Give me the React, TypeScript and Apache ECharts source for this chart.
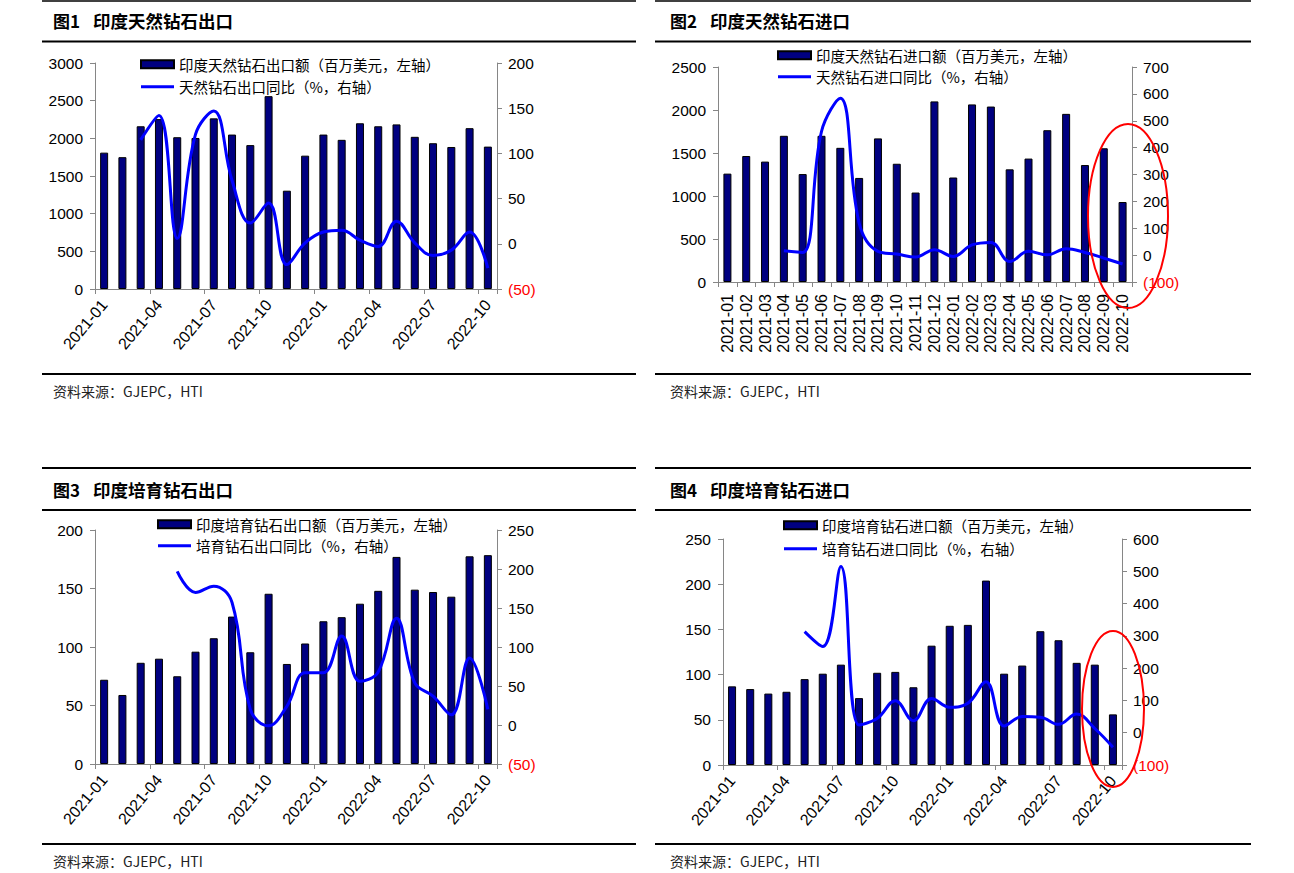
import React, { useEffect, useRef } from "react";
import * as echarts from "echarts";

const months = [
  "2021-01", "2021-02", "2021-03", "2021-04", "2021-05", "2021-06", "2021-07", "2021-08", "2021-09", "2021-10", "2021-11", "2021-12",
  "2022-01", "2022-02", "2022-03", "2022-04", "2022-05", "2022-06", "2022-07", "2022-08", "2022-09", "2022-10",
];

// 图1 印度天然钻石出口
const natExpValue = [1810, 1750, 2160, 2255, 2015, 2005, 2265, 2050, 1910, 2560, 1305, 1770, 2050, 1980, 2200, 2160, 2185, 2020, 1935, 1885, 2135, 1890];
const natExpYoy = [null, null, 115, 142, 6, 121, 147, 70, 23, 45, -23, 1, 13, 15, 4, -3, 25, 1, -13, -7, 13, -27];
// 图2 印度天然钻石进口
const natImpValue = [1260, 1465, 1400, 1700, 1255, 1700, 1560, 1210, 1670, 1375, 1040, 2100, 1215, 2065, 2040, 1310, 1435, 1765, 1955, 1360, 1555, 930];
const natImpYoy = [null, null, null, 16, 10, 460, 584, 119, 14, 4, -7, 20, -5, 38, 47, -24, 14, 1, 24, 10, -11, -33];
// 图3 印度培育钻石出口
const labExpValue = [72, 59, 86.5, 90, 75, 96, 107.5, 126, 95.5, 145.5, 85.5, 103, 122, 125.5, 137, 148, 177, 149, 147, 143, 177.5, 178.5];
const labExpYoy = [null, null, null, null, 197, 170, 178, 157, 20, -1, 24, 67, 67, 114, 56, 68, 137, 54, 37, 13, 86, 20];
// 图4 印度培育钻石进口
const labImpValue = [87, 84, 79, 81, 95, 101, 111, 74, 102, 103, 86, 132, 154, 155, 204, 101, 110, 148, 138, 113, 111, 56];
const labImpYoy = [null, null, null, null, 313, 267, 515, 24, 44, 99, 37, 106, 79, 91, 158, 21, 50, 48, 26, 58, 13, -45];

const NUM = '"Liberation Sans", Arial, sans-serif';
const CJK = '"Noto Sans CJK SC", "Noto Sans", sans-serif';
const AXIS_GRAY = "#868686";
const LINE_ICON = "path://M0,0L0.01,0L0,0.01Z M0,2.5L33,2.5L33,5.5L0,5.5Z M0,8L0.01,8L0,7.99Z";

type Panel = {
  grid: { left: number; top: number; width: number; height: number };
  left: [number, number, number];
  right: [number, number, number];
  barName: string;
  lineName: string;
  bars: number[];
  yoy: (number | null)[];
  legend: { left: number; top: number; gap: number };
  allLabels: boolean;
};

const panels: Panel[] = [
  {
    grid: { left: 95, top: 63, width: 402, height: 226 },
    left: [0, 3000, 500],
    right: [-50, 200, 50],
    barName: "印度天然钻石出口额（百万美元，左轴）",
    lineName: "天然钻石出口同比（%，右轴）",
    bars: natExpValue,
    yoy: natExpYoy,
    legend: { left: 140, top: 57, gap: 8 },
    allLabels: false,
  },
  {
    grid: { left: 718, top: 67, width: 414, height: 215 },
    left: [0, 2500, 500],
    right: [-100, 700, 100],
    barName: "印度天然钻石进口额（百万美元，左轴）",
    lineName: "天然钻石进口同比（%，右轴）",
    bars: natImpValue,
    yoy: natImpYoy,
    legend: { left: 777, top: 48, gap: 7 },
    allLabels: true,
  },
  {
    grid: { left: 95, top: 530, width: 402, height: 234 },
    left: [0, 200, 50],
    right: [-50, 250, 50],
    barName: "印度培育钻石出口额（百万美元，左轴）",
    lineName: "培育钻石出口同比（%，右轴）",
    bars: labExpValue,
    yoy: labExpYoy,
    legend: { left: 157, top: 517, gap: 7 },
    allLabels: false,
  },
  {
    grid: { left: 723, top: 539, width: 399, height: 226 },
    left: [0, 250, 50],
    right: [-100, 600, 100],
    barName: "印度培育钻石进口额（百万美元，左轴）",
    lineName: "培育钻石进口同比（%，右轴）",
    bars: labImpValue,
    yoy: labImpYoy,
    legend: { left: 783, top: 518, gap: 9 },
    allLabels: false,
  },
];

const titles = [
  { num: "图1", text: "印度天然钻石出口", x: 53, y: 20 },
  { num: "图2", text: "印度天然钻石进口", x: 670, y: 20 },
  { num: "图3", text: "印度培育钻石出口", x: 53, y: 489 },
  { num: "图4", text: "印度培育钻石进口", x: 670, y: 489 },
];

function buildOption() {
  const grid: any[] = [];
  const xAxis: any[] = [];
  const yAxis: any[] = [];
  const series: any[] = [];
  const legend: any[] = [];

  panels.forEach((p, i) => {
    grid.push({ ...p.grid, containLabel: false });
    xAxis.push({
      type: "category",
      gridIndex: i,
      data: months,
      boundaryGap: true,
      axisLine: { lineStyle: { color: AXIS_GRAY, width: 1 } },
      axisTick: { show: true, interval: p.allLabels ? 0 : 2, length: 5, lineStyle: { color: AXIS_GRAY } },
      axisLabel: {
        interval: p.allLabels ? 0 : 2,
        rotate: p.allLabels ? 90 : 50,
        fontSize: 16,
        fontFamily: NUM,
        color: "#000",
        margin: p.allLabels ? 12 : 13,
      },
    });
    yAxis.push({
      type: "value",
      gridIndex: i,
      position: "left",
      min: p.left[0],
      max: p.left[1],
      interval: p.left[2],
      splitLine: { show: false },
      axisLine: { show: true, lineStyle: { color: AXIS_GRAY } },
      axisTick: { show: true, length: 5, lineStyle: { color: AXIS_GRAY } },
      axisLabel: {
        fontSize: 15.5,
        fontFamily: NUM,
        color: "#000",
        margin: 12,
        formatter: (v: number) => String(v),
      },
    });
    yAxis.push({
      type: "value",
      gridIndex: i,
      position: "right",
      min: p.right[0],
      max: p.right[1],
      interval: p.right[2],
      splitLine: { show: false },
      axisLine: { show: true, lineStyle: { color: AXIS_GRAY } },
      axisTick: { show: true, length: 5, lineStyle: { color: AXIS_GRAY } },
      axisLabel: {
        fontSize: 15.5,
        fontFamily: NUM,
        color: "#000",
        margin: 11,
        formatter: (v: number) => (v < 0 ? `{neg|(${-v})}` : `${v}`),
        rich: { neg: { color: "#ff0000", fontSize: 15.5, fontFamily: NUM } },
      },
    });
    series.push({
      name: p.barName,
      type: "bar",
      xAxisIndex: i,
      yAxisIndex: i * 2,
      data: p.bars,
      barWidth: 8,
      itemStyle: { color: "#000080", borderColor: "#000", borderWidth: 1 },
      z: 2,
    });
    series.push({
      name: p.lineName,
      type: "line",
      xAxisIndex: i,
      yAxisIndex: i * 2 + 1,
      data: p.yoy,
      smooth: 0.4,
      symbol: "none",
      showSymbol: false,
      lineStyle: { color: "#0000ff", width: 3 },
      itemStyle: { color: "#0000ff" },
      z: 3,
    });
    legend.push({
      orient: "vertical",
      left: p.legend.left,
      top: p.legend.top,
      itemGap: p.legend.gap,
      itemWidth: 33,
      itemHeight: 8,
      padding: 0,
      textStyle: { fontSize: 14.5, fontFamily: CJK, color: "#000" },
      data: [
        { name: p.barName, icon: "rect" },
        { name: p.lineName, icon: LINE_ICON, itemStyle: { color: "#0000ff", borderWidth: 0 } },
      ],
    });
  });

  const graphic: any[] = [];
  titles.forEach((t) => {
    graphic.push({
      type: "text",
      x: t.x,
      y: t.y,
      style: { text: t.num, fontSize: 17, fontWeight: "bold", fontFamily: CJK, fill: "#000", verticalAlign: "middle" },
    });
    graphic.push({
      type: "text",
      x: t.x + 40,
      y: t.y,
      style: { text: t.text, fontSize: 17.5, fontWeight: "bold", fontFamily: CJK, fill: "#000", verticalAlign: "middle" },
    });
  });
  const hl = (x1: number, x2: number, y: number, w: number) => ({
    type: "line",
    shape: { x1, y1: y, x2, y2: y },
    style: { stroke: "#000", lineWidth: w },
  });
  [
    [42, 636],
    [655, 1251],
  ].forEach(([a, b]) => {
    graphic.push(hl(a, b, 1, 1.5));
    graphic.push(hl(a, b, 41.5, 2));
    graphic.push(hl(a, b, 374, 2));
    graphic.push(hl(a, b, 468, 2));
    graphic.push(hl(a, b, 510, 2));
    graphic.push(hl(a, b, 844, 2));
  });
  [
    [53, 391],
    [670, 391],
    [53, 861],
    [670, 861],
  ].forEach(([x, y]) => {
    graphic.push({
      type: "text",
      x,
      y,
      style: { text: "资料来源：GJEPC，HTI", fontSize: 14, fontFamily: CJK, fill: "#222", verticalAlign: "middle" },
    });
  });
  graphic.push({
    type: "ellipse",
    shape: { cx: 1128, cy: 216, rx: 40, ry: 92 },
    style: { fill: "transparent", stroke: "#ff0000", lineWidth: 2 },
    z: 100,
  });
  graphic.push({
    type: "ellipse",
    shape: { cx: 1113, cy: 709, rx: 31, ry: 78 },
    style: { fill: "transparent", stroke: "#ff0000", lineWidth: 2 },
    z: 100,
  });

  return {
    animation: false,
    backgroundColor: "#fff",
    grid,
    xAxis,
    yAxis,
    series,
    legend,
    graphic,
  };
}

export default function App() {
  const ref = useRef<HTMLDivElement>(null);
  useEffect(() => {
    if (!ref.current) return;
    const chart = echarts.init(ref.current, undefined, { renderer: "svg" });
    chart.setOption(buildOption() as any);
    return () => chart.dispose();
  }, []);
  return (
    <div
      ref={ref}
      style={{ position: "absolute", left: 0, top: 0, width: 1294, height: 873, background: "#fff" }}
    />
  );
}
